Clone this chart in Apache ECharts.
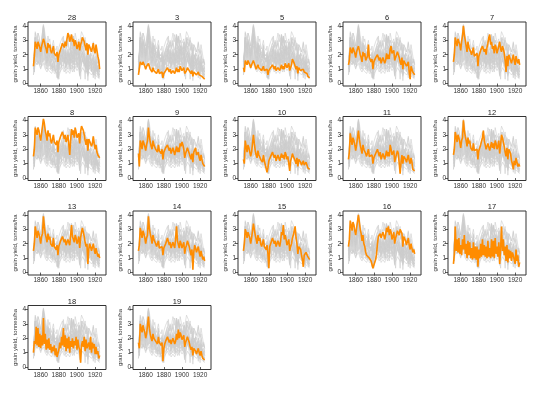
<!DOCTYPE html>
<html><head><meta charset="utf-8">
<script src="https://cdn.jsdelivr.net/npm/echarts@6/dist/echarts.min.js"></script>
<style>html,body{margin:0;padding:0;background:#fff}#c{width:540px;height:393px}</style>
</head><body><div id="c"></div>
<script>
const years = [];
for (let y = 1852; y <= 1925; y++) years.push(y);
const panelNames = ['28','3','5','6','7','8','9','10','11','12','13','14','15','16','17','18','19'];
const xTicks = [1860, 1880, 1900, 1920];
const yTicks = [0, 1, 2, 3, 4];

const p28 = [1.2,1.9,2.9,2.7,2.4,2.9,2.8,2.5,2.2,2.6,2.5,3.1,2.9,2.6,2.4,2.1,2.8,2.5,2.7,2.3,2.1,2.0,2.6,2.1,2.2,1.9,2.2,1.5,2.0,2.1,2.4,2.5,2.8,2.7,2.5,2.9,2.6,3.1,3.5,3.3,2.9,3.0,3.4,2.9,3.1,2.6,3.0,2.8,2.4,2.6,2.9,2.3,2.7,2.9,3.2,3.1,2.9,2.6,2.3,2.8,2.0,2.7,2.6,2.4,2.2,2.3,2.8,2.3,2.1,2.7,2.3,1.9,1.6,1.0];
const p3 = [0.6,0.5,1.5,1.4,1.3,1.5,1.4,1.2,1.0,1.2,1.1,1.4,1.2,1.0,0.9,0.8,1.1,0.9,1.0,0.8,0.7,0.7,1.0,0.7,0.8,0.7,0.8,0.4,0.7,0.8,0.9,0.9,1.1,1.0,0.8,1.0,0.7,0.8,0.9,0.9,0.7,0.8,1.1,0.8,1.0,0.8,1.2,1.1,0.9,1.0,1.1,0.7,0.8,0.9,1.1,1.0,0.9,0.8,0.7,0.9,0.5,0.8,0.7,0.7,0.6,0.6,0.8,0.6,0.5,0.7,0.5,0.4,0.4,0.3];
const p5 = [1.1,0.8,1.6,1.5,1.3,1.6,1.5,1.3,1.1,1.3,1.3,1.6,1.4,1.2,1.0,0.9,1.3,1.1,1.2,1.0,0.9,0.8,1.2,0.9,1.0,0.9,1.0,0.6,0.9,1.0,1.1,1.1,1.3,1.2,1.0,1.2,0.9,1.0,1.1,1.1,0.9,1.0,1.3,1.0,1.2,1.0,1.4,1.3,1.1,1.2,1.4,0.9,1.1,1.3,1.7,1.6,1.4,1.2,1.0,1.2,0.7,1.1,1.0,0.9,0.8,0.8,1.0,0.8,0.7,0.9,0.7,0.5,0.5,0.4];
const p6 = [1.3,1.6,2.5,2.3,2.1,2.5,2.4,2.1,1.8,2.2,2.1,2.6,2.3,2.0,1.8,1.5,2.2,1.9,2.1,1.6,1.5,1.9,2.7,1.8,1.7,1.5,1.7,1.0,1.5,1.6,1.8,1.7,2.0,1.9,1.6,1.8,1.4,1.6,1.8,1.7,1.4,1.6,2.1,1.7,2.0,1.7,2.4,2.6,2.1,2.2,2.3,1.6,1.8,1.9,2.2,2.0,1.8,1.5,1.3,1.8,1.0,1.6,1.7,1.5,1.2,1.3,1.5,0.8,0.3,1.2,1.0,0.8,0.9,0.6];
const p7 = [1.5,2.0,3.2,2.9,2.6,3.1,3.0,2.7,2.3,2.9,3.3,4.0,3.4,3.0,2.6,2.2,2.9,2.5,2.6,2.2,2.0,1.9,2.5,1.9,2.0,1.8,2.1,1.2,1.9,2.0,2.3,2.3,2.6,2.5,2.2,2.4,2.0,2.5,2.8,3.2,3.4,2.7,2.9,2.4,2.6,2.1,2.7,2.5,2.1,2.2,2.6,2.9,2.4,2.2,2.6,2.4,2.1,1.6,0.8,1.9,1.2,2.0,1.8,1.7,1.4,1.5,2.0,1.6,1.3,1.9,1.6,1.4,1.7,1.3];
const p8 = [1.5,2.0,3.5,3.4,3.0,3.5,3.3,2.9,2.6,3.1,3.2,4.1,3.8,3.3,3.0,2.6,3.3,2.9,3.1,2.6,2.4,2.3,3.0,2.5,2.6,2.3,2.6,1.8,2.5,2.6,2.9,3.0,3.2,3.1,2.7,3.0,2.5,2.7,3.0,2.9,1.6,2.6,3.4,3.0,3.3,2.8,3.5,3.2,2.8,2.9,3.1,2.4,3.2,3.6,3.5,3.3,3.0,2.6,2.3,2.7,1.9,2.7,2.6,2.4,2.2,2.4,2.9,2.4,2.0,2.3,1.8,1.6,1.7,1.4];
const p9 = [1.7,0.8,2.6,2.4,2.0,2.6,2.5,2.2,1.9,2.3,2.6,3.5,2.9,2.5,2.2,2.0,2.6,2.3,2.4,2.0,1.9,1.8,2.3,1.9,2.0,1.7,2.0,1.3,1.8,1.9,2.1,2.1,2.3,2.2,1.9,2.1,1.7,1.9,2.1,2.0,1.6,1.7,2.2,1.8,2.1,1.8,2.4,2.2,2.5,2.3,2.0,1.4,1.7,1.9,2.1,1.9,1.7,1.5,1.3,1.7,1.1,1.8,1.9,2.1,1.6,1.5,1.8,1.4,1.2,1.6,1.3,1.0,1.1,0.8];
const p10 = [1.3,1.0,2.6,2.2,1.8,2.3,2.1,1.8,1.5,1.8,1.9,3.0,2.4,1.9,1.6,1.4,1.9,1.6,1.7,1.3,1.2,1.1,1.6,1.2,1.3,1.1,0.4,0.7,1.2,1.3,1.5,1.5,1.8,1.7,1.4,1.6,1.2,1.4,1.6,1.5,1.2,1.3,1.7,1.4,1.6,1.3,1.8,1.6,1.3,1.5,1.6,0.5,1.2,1.4,1.7,1.5,1.4,1.2,1.0,1.4,0.8,1.3,1.2,1.1,0.9,1.0,1.2,0.9,0.8,1.1,0.9,0.7,0.8,0.6];
const p11 = [1.3,1.8,3.1,2.7,2.3,2.8,2.6,2.3,1.9,2.3,2.4,3.3,2.7,2.3,2.0,1.7,2.3,2.0,2.1,1.7,1.5,1.4,2.0,1.5,1.6,1.4,1.6,1.0,1.4,1.5,1.7,1.7,2.0,1.9,1.5,1.8,1.3,1.5,1.7,1.6,1.3,1.4,1.9,1.5,1.8,1.5,2.3,2.0,1.6,1.7,1.9,1.1,1.4,1.5,1.9,1.7,1.0,0.3,1.1,1.6,1.0,1.5,1.4,1.3,1.1,1.2,1.6,1.2,1.0,1.4,1.1,0.6,0.7,0.5];
const p12 = [1.6,2.0,3.2,2.9,2.5,3.0,2.8,2.5,2.1,2.6,2.8,4.0,3.3,2.9,2.6,2.2,2.8,2.4,2.6,2.1,2.0,1.9,2.4,1.9,2.0,1.8,2.0,1.3,1.9,2.0,2.3,2.4,2.8,3.3,2.6,2.5,2.0,2.2,2.4,2.3,1.9,2.0,2.5,2.1,2.4,2.0,2.6,2.4,2.0,2.2,2.6,1.7,2.3,3.0,2.8,2.5,2.2,1.8,1.5,2.1,1.3,2.0,1.9,1.7,1.2,1.0,0.6,1.2,0.9,1.4,1.1,0.8,1.0,0.8];
const p13 = [1.5,2.0,3.2,2.8,2.4,2.9,2.7,2.4,2.0,2.5,2.7,3.9,3.2,2.7,2.4,2.1,2.7,2.3,2.5,2.0,1.9,1.8,2.4,1.8,1.9,1.6,1.9,1.2,1.8,1.9,2.2,2.2,2.5,2.4,2.1,2.3,1.9,2.1,2.3,2.2,1.9,2.6,3.3,2.5,2.6,2.1,2.6,2.4,2.0,2.2,2.5,1.7,2.4,2.8,3.1,2.8,2.5,2.1,1.8,2.0,0.6,1.6,2.0,1.8,1.5,1.6,2.0,1.6,1.3,1.7,1.4,1.1,1.3,1.0];
const p14 = [1.5,1.9,3.1,2.8,2.4,2.9,2.7,2.4,2.0,2.4,2.6,3.9,3.1,2.7,2.4,2.0,2.6,2.3,2.4,2.0,1.8,1.7,2.2,1.7,1.8,1.6,1.8,1.2,1.7,1.8,2.0,2.1,2.4,2.3,1.9,2.1,1.7,1.9,2.1,2.0,1.7,2.4,3.2,2.2,2.1,1.7,2.2,2.0,1.7,1.8,2.1,1.3,1.7,1.9,2.2,2.0,1.8,1.5,1.2,1.6,0.2,1.4,1.9,1.7,1.4,1.5,1.8,1.4,1.1,1.5,1.2,0.9,1.1,0.8];
const p15 = [1.5,2.0,3.0,2.8,2.4,2.8,2.7,2.4,2.0,2.4,2.5,3.4,3.0,2.6,2.3,2.0,2.6,2.2,2.4,2.0,1.8,1.7,2.3,1.8,1.9,1.6,1.9,1.3,0.3,1.8,2.0,2.1,2.4,2.3,2.0,2.2,1.8,2.0,2.2,2.1,1.8,2.2,2.8,2.6,3.3,2.3,2.6,2.3,1.9,2.0,2.3,1.5,1.8,2.0,2.4,2.6,2.9,3.2,2.4,2.0,1.3,1.8,1.7,1.6,1.2,0.9,0.4,1.2,1.1,1.4,1.3,1.1,1.2,0.9];
const p16 = [1.8,2.3,3.6,3.3,2.9,3.5,3.3,2.9,2.6,3.1,3.2,4.0,3.5,3.0,2.7,2.2,2.6,2.0,1.8,1.4,1.2,1.1,1.3,1.0,0.9,0.8,0.7,0.3,0.5,0.6,0.9,1.3,2.0,2.5,2.4,2.7,2.4,2.6,2.8,2.6,2.3,2.6,3.1,2.8,3.2,2.6,3.0,2.8,2.3,2.5,2.8,2.0,2.4,2.6,2.9,2.8,2.6,3.0,3.1,2.7,1.8,2.5,2.4,2.2,1.9,2.0,2.4,1.9,1.6,2.0,1.7,1.4,1.6,1.3];
const p17 = [0.6,1.3,3.2,1.5,2.3,1.4,2.4,1.3,1.9,1.2,2.3,1.6,2.6,1.3,2.0,1.0,2.2,1.2,2.1,1.0,1.7,0.9,2.1,1.0,1.8,0.9,1.8,0.4,1.6,1.0,2.0,1.1,2.3,1.2,1.9,1.1,1.8,1.0,2.2,1.1,1.7,1.0,2.3,1.1,2.2,1.0,2.4,1.3,1.8,1.1,2.1,0.6,1.7,3.2,1.5,2.3,1.2,1.8,0.8,1.9,0.7,1.6,1.0,1.5,0.8,1.4,1.2,1.3,0.6,1.6,0.8,1.2,0.4,0.7];
const p18 = [1.0,1.8,1.6,2.8,1.5,2.7,1.4,2.3,1.3,2.2,1.5,3.4,1.6,2.3,1.2,1.9,1.3,2.0,1.2,1.6,1.0,1.4,1.1,1.5,0.8,1.3,0.7,0.8,1.2,1.7,1.3,2.1,1.5,2.7,1.4,2.2,1.1,2.0,1.3,2.1,1.0,1.8,1.4,2.0,1.3,1.8,1.5,2.1,1.2,1.9,1.4,1.2,0.3,1.5,1.8,1.4,2.1,1.1,1.9,1.3,1.2,1.7,1.2,2.1,1.0,1.7,1.3,1.6,0.9,1.4,0.9,1.1,0.6,0.8];
const p19 = [1.7,1.3,3.0,2.7,2.4,2.9,2.6,2.4,2.0,2.3,2.4,3.5,2.7,2.3,2.0,1.8,2.3,2.0,2.1,1.8,1.7,1.6,2.1,1.7,1.8,1.5,1.7,0.4,1.3,1.6,1.8,1.8,2.1,2.0,1.7,1.9,1.6,1.8,2.0,1.9,1.6,1.8,2.3,1.9,2.6,2.0,2.4,2.2,1.9,2.0,2.2,1.4,1.7,1.8,2.1,1.9,1.7,1.4,1.2,1.4,0.8,1.3,1.2,1.1,0.9,1.0,1.3,1.0,0.8,1.1,0.8,0.6,0.7,0.5];

const panelValues = [p28,p3,p5,p6,p7,p8,p9,p10,p11,p12,p13,p14,p15,p16,p17,p18,p19];

const colLeft = [28, 133, 238, 343, 448];
const rowTop = [22, 116.5, 211, 305.5];
const W = 78, H = 64;
const FONT = 'Liberation Sans, Arial, sans-serif';

const grids = [], xAxes = [], yAxes = [], titles = [], series = [];
panelNames.forEach((name, i) => {
  const col = i % 5, row = Math.floor(i / 5);
  const left = colLeft[col], top = rowTop[row];
  grids.push({left: left, top: top, width: W, height: H, show: true,
    borderColor: '#333', borderWidth: 1, backgroundColor: '#fff', containLabel: false});
  xAxes.push({gridIndex: i, type: 'value', min: 1846, max: 1932,
    axisLine: {show: false},
    axisTick: {show: true, length: 3, customValues: xTicks, lineStyle: {color: '#333', width: 0.8}},
    axisLabel: {customValues: xTicks, fontSize: 6.5, color: '#333', margin: 2, fontFamily: FONT,
      formatter: v => String(v)},
    splitLine: {show: false}});
  yAxes.push({gridIndex: i, type: 'value', min: -0.17, max: 4.27,
    name: 'grain yield, tonnes/ha', nameLocation: 'middle', nameRotate: 90, nameGap: 8,
    nameTextStyle: {fontSize: 6, color: '#333', fontFamily: FONT},
    axisLine: {show: false},
    axisTick: {show: true, length: 3, customValues: yTicks, lineStyle: {color: '#333', width: 0.8}},
    axisLabel: {customValues: yTicks, fontSize: 6.5, color: '#333', margin: 2, fontFamily: FONT,
      formatter: v => String(v)},
    splitLine: {show: false}});
  titles.push({text: name, left: left + W / 2, top: top - 13, textAlign: 'center',
    textStyle: {fontSize: 7.5, fontWeight: 'normal', color: '#222', fontFamily: FONT}});
  panelValues.forEach((vals, j) => {
    series.push({type: 'line', xAxisIndex: i, yAxisIndex: i, symbol: 'none', silent: true,
      z: 1, lineStyle: {color: '#cdcdcd', width: 0.6},
      data: years.map((y, k) => [y, vals[k]])});
  });
  series.push({type: 'line', xAxisIndex: i, yAxisIndex: i, symbol: 'none', silent: true,
    z: 3, lineStyle: {color: '#ff8c00', width: 1.6},
    data: years.map((y, k) => [y, panelValues[i][k]])});
});

const chart = echarts.init(document.getElementById('c'), null, {renderer: 'canvas'});
chart.setOption({animation: false, backgroundColor: '#fff', title: titles,
  grid: grids, xAxis: xAxes, yAxis: yAxes, series: series});
</script></body></html>
